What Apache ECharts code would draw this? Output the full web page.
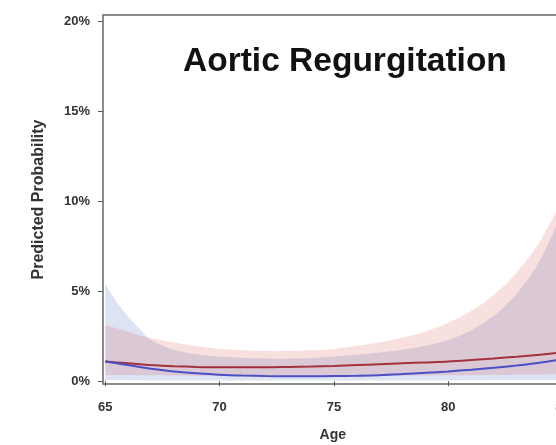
<!DOCTYPE html>
<html>
<head>
<meta charset="utf-8">
<script src="https://cdn.jsdelivr.net/npm/echarts@6/dist/echarts.min.js"></script>
<style>
  html, body { margin: 0; padding: 0; background: #fff; }
  #main { width: 556px; height: 445px; }
</style>
</head>
<body>
<div id="main"></div>
<script>
// ages (years)
const ages = [65, 65.5, 66, 66.5, 67, 68, 69, 70, 71, 72, 73, 74, 75, 76, 77, 78, 79, 80, 81, 82, 83, 84, 85]

// predicted probability in %
const redLine  = [1.1, 1.05, 1.0, 0.95, 0.9, 0.84, 0.8, 0.78, 0.78, 0.78, 0.8, 0.82, 0.85, 0.9, 0.95, 1.0, 1.05, 1.1, 1.18, 1.27, 1.37, 1.48, 1.6]
const redLow   = [0.35, 0.35, 0.35, 0.34, 0.33, 0.32, 0.31, 0.3, 0.29, 0.28, 0.28, 0.28, 0.28, 0.29, 0.3, 0.31, 0.32, 0.33, 0.34, 0.35, 0.37, 0.38, 0.4]
const redHigh  = [3.1, 2.95, 2.75, 2.55, 2.4, 2.15, 1.95, 1.8, 1.72, 1.68, 1.68, 1.72, 1.8, 1.98, 2.16, 2.42, 2.77, 3.25, 3.9, 4.8, 6.05, 7.75, 10.1]

const blueLine = [1.1, 1.0, 0.9, 0.8, 0.7, 0.55, 0.45, 0.37, 0.32, 0.29, 0.28, 0.28, 0.29, 0.31, 0.34, 0.4, 0.47, 0.55, 0.64, 0.75, 0.88, 1.03, 1.22]
const blueLow  = [0.08, 0.07, 0.06, 0.06, 0.05, 0.05, 0.05, 0.05, 0.05, 0.05, 0.05, 0.05, 0.05, 0.05, 0.05, 0.05, 0.05, 0.05, 0.06, 0.06, 0.07, 0.07, 0.08]
const blueHigh = [5.4, 4.4, 3.6, 2.9, 2.3, 1.75, 1.5, 1.38, 1.3, 1.27, 1.26, 1.3, 1.38, 1.48, 1.6, 1.75, 1.98, 2.3, 2.84, 3.65, 4.87, 6.68, 9.39]

const xTicks = [65, 70, 75, 80, 85]
const yTicks = [0, 5, 10, 15, 20]

const pairs = (ys) => ages.map((a, i) => [a, ys[i]])

const labelFont = { fontFamily: 'Liberation Sans, Arial, sans-serif', fontWeight: 'bold', color: '#333' }

// catmull-rom through pixel points -> cubic bezier commands
const curveTo = (p) => {
    let d = ''
    for (let i = 0; i < p.length - 1; i++) {
        const p0 = p[Math.max(i - 1, 0)], p1 = p[i], p2 = p[i + 1], p3 = p[Math.min(i + 2, p.length - 1)]
        const c1 = [p1[0] + (p2[0] - p0[0]) / 6, p1[1] + (p2[1] - p0[1]) / 6]
        const c2 = [p2[0] - (p3[0] - p1[0]) / 6, p2[1] - (p3[1] - p1[1]) / 6]
        d += ' C' + c1[0] + ',' + c1[1] + ' ' + c2[0] + ',' + c2[1] + ' ' + p2[0] + ',' + p2[1]
    }
    return d
}

// confidence band: upper edge left->right, lower edge right->left
const bandSeries = (hi, lo, fill) => ({
    type: 'custom',
    data: [0],
    silent: true,
    renderItem: (params, api) => {
        const up = ages.map((a, i) => api.coord([a, hi[i]]))
        const dn = ages.map((a, i) => api.coord([a, lo[i]])).reverse()
        const d = 'M' + up[0][0] + ',' + up[0][1] + curveTo(up) +
            ' L' + dn[0][0] + ',' + dn[0][1] + curveTo(dn) + ' Z'
        const cs = params.coordSys
        return {
            type: 'path',
            shape: { pathData: d },
            style: { fill: fill, stroke: null },
            clipPath: { type: 'rect', shape: { x: cs.x, y: cs.y, width: cs.width, height: cs.height } }
        }
    }
})

const myChart = echarts.init(document.getElementById('main'))
myChart.setOption({
    animation: false,
    backgroundColor: '#fff',
    title: {
        text: 'Aortic Regurgitation',
        left: 178,
        top: 40,
        textStyle: { fontFamily: 'Liberation Sans, Arial, sans-serif', fontWeight: 'bold', fontSize: 33.5, color: '#111' }
    },
    grid: {
        left: 103, top: 15, bottom: 61, right: -6.5,
        show: true, borderColor: '#666', borderWidth: 1.5,
        outerBoundsMode: 'none',
        containLabel: false
    },
    xAxis: {
        type: 'value',
        min: 64.9,
        max: 85,
        name: 'Age',
        nameLocation: 'middle',
        nameGap: 44,
        nameTextStyle: Object.assign({ fontSize: 14 }, labelFont),
        axisLine: { show: false },
        splitLine: { show: false },
        axisTick: { show: true, length: 5, customValues: xTicks, lineStyle: { color: '#555' } },
        axisLabel: Object.assign({ fontSize: 13, margin: 17, customValues: xTicks }, labelFont)
    },
    yAxis: {
        type: 'value',
        min: -0.15,
        max: 20.35,
        name: 'Predicted Probability',
        nameLocation: 'middle',
        nameGap: 56,
        nameTextStyle: Object.assign({ fontSize: 16 }, labelFont),
        axisLine: { show: false },
        splitLine: { show: false },
        axisTick: { show: true, length: 5, customValues: yTicks, lineStyle: { color: '#555' } },
        axisLabel: Object.assign({
            fontSize: 13, margin: 13, customValues: yTicks,
            formatter: v => v + '%'
        }, labelFont)
    },
    series: [
        bandSeries(blueHigh, blueLow, 'rgba(80,105,195,0.19)'),
        bandSeries(redHigh, redLow, 'rgba(210,70,60,0.17)'),
        {
            type: 'line', data: pairs(redLine), smooth: 0.3, symbol: 'none',
            lineStyle: { color: '#a3313c', width: 2 }
        },
        {
            type: 'line', data: pairs(blueLine), smooth: 0.3, symbol: 'none',
            lineStyle: { color: '#4b4fc4', width: 2 }
        }
    ]
})
</script>
</body>
</html>
